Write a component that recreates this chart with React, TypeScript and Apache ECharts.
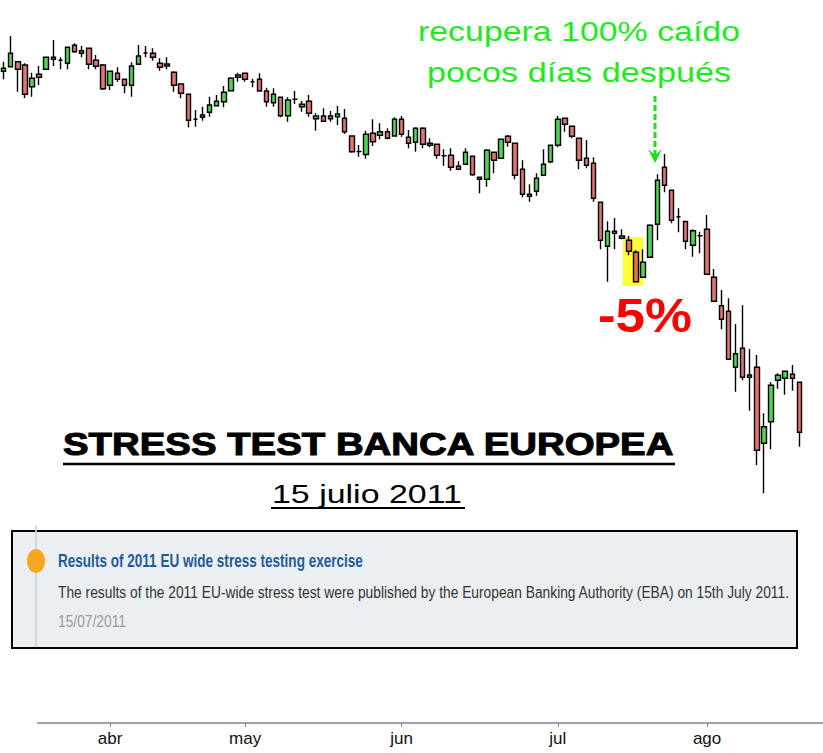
import React, { useEffect, useRef } from "react";
import * as echarts from "echarts";

const FONT = '"Liberation Sans", Arial, sans-serif';

const tradingDays: string[] = [
  "2011-03-11", "2011-03-14", "2011-03-15", "2011-03-16", "2011-03-17", "2011-03-18", "2011-03-21", "2011-03-22",
  "2011-03-23", "2011-03-24", "2011-03-25", "2011-03-28", "2011-03-29", "2011-03-30", "2011-03-31",
  "2011-04-01", "2011-04-04", "2011-04-05", "2011-04-06", "2011-04-07", "2011-04-08", "2011-04-11", "2011-04-12",
  "2011-04-13", "2011-04-14", "2011-04-15", "2011-04-18", "2011-04-19", "2011-04-20", "2011-04-21", "2011-04-26",
  "2011-04-27", "2011-04-28", "2011-04-29",
  "2011-05-02", "2011-05-03", "2011-05-04", "2011-05-05", "2011-05-06", "2011-05-09", "2011-05-10", "2011-05-11",
  "2011-05-12", "2011-05-13", "2011-05-16", "2011-05-17", "2011-05-18", "2011-05-19", "2011-05-20", "2011-05-23",
  "2011-05-24", "2011-05-25", "2011-05-26", "2011-05-27", "2011-05-30", "2011-05-31",
  "2011-06-01", "2011-06-02", "2011-06-03", "2011-06-06", "2011-06-07", "2011-06-08", "2011-06-09", "2011-06-10",
  "2011-06-13", "2011-06-14", "2011-06-15", "2011-06-16", "2011-06-17", "2011-06-20", "2011-06-21", "2011-06-22",
  "2011-06-23", "2011-06-24", "2011-06-27", "2011-06-28", "2011-06-29", "2011-06-30",
  "2011-07-01", "2011-07-04", "2011-07-05", "2011-07-06", "2011-07-07", "2011-07-08", "2011-07-11", "2011-07-12",
  "2011-07-13", "2011-07-14", "2011-07-15", "2011-07-18", "2011-07-19", "2011-07-20", "2011-07-21", "2011-07-22",
  "2011-07-25", "2011-07-26", "2011-07-27", "2011-07-28", "2011-07-29",
  "2011-08-01", "2011-08-02", "2011-08-03", "2011-08-04", "2011-08-05", "2011-08-08", "2011-08-09", "2011-08-10",
  "2011-08-11", "2011-08-12", "2011-08-15", "2011-08-16", "2011-08-17", "2011-08-18",
];

// [open, close, low, high]
const ohlc: number[][] = [
  [9.287, 9.317, 9.207, 9.383], [9.333, 9.467, 9.327, 9.64], [9.383, 9.307, 9.083, 9.383], [9.35, 9.057, 9.017, 9.367],
  [9.133, 9.217, 9.033, 9.273], [9.257, 9.227, 9.15, 9.34], [9.307, 9.427, 9.307, 9.433], [9.427, 9.407, 9.34, 9.6],
  [9.397, 9.397, 9.307, 9.427], [9.367, 9.527, 9.307, 9.527], [9.547, 9.483, 9.473, 9.567], [9.467, 9.493, 9.427, 9.54],
  [9.517, 9.357, 9.307, 9.517], [9.397, 9.337, 9.307, 9.45], [9.35, 9.113, 9.1, 9.36], [9.147, 9.287, 9.1, 9.287],
  [9.267, 9.207, 9.183, 9.327], [9.207, 9.147, 9.067, 9.207], [9.147, 9.34, 9.033, 9.377], [9.357, 9.44, 9.357, 9.55],
  [9.47, 9.47, 9.427, 9.54], [9.467, 9.427, 9.393, 9.517], [9.367, 9.327, 9.293, 9.417], [9.36, 9.34, 9.307, 9.427],
  [9.277, 9.147, 9.083, 9.287], [9.16, 9.067, 9.017, 9.167], [9.057, 8.797, 8.725, 9.057], [8.807, 8.807, 8.733, 8.9],
  [8.85, 8.827, 8.793, 8.933], [8.877, 8.95, 8.833, 9.033], [8.943, 8.987, 8.943, 9.05], [8.983, 9.077, 8.927, 9.14],
  [9.093, 9.217, 9.093, 9.227], [9.227, 9.25, 9.183, 9.273], [9.267, 9.207, 9.183, 9.267], [9.183, 9.183, 9.127, 9.21],
  [9.207, 9.09, 9.083, 9.267], [9.09, 8.983, 8.933, 9.123], [8.973, 9.057, 8.933, 9.117], [9.027, 8.843, 8.827, 9.027],
  [8.843, 9.0, 8.783, 9.027], [9.007, 9.007, 8.96, 9.09], [8.933, 8.957, 8.883, 8.99], [8.987, 8.867, 8.833, 9.05],
  [8.813, 8.84, 8.693, 8.867], [8.84, 8.787, 8.787, 8.917], [8.84, 8.813, 8.783, 8.89], [8.833, 8.86, 8.75, 8.94],
  [8.817, 8.683, 8.66, 8.91], [8.64, 8.483, 8.473, 8.64], [8.485, 8.485, 8.433, 8.55], [8.455, 8.658, 8.412, 8.692],
  [8.667, 8.583, 8.54, 8.808], [8.647, 8.683, 8.607, 8.767], [8.683, 8.617, 8.607, 8.717], [8.64, 8.807, 8.64, 8.827],
  [8.807, 8.657, 8.633, 8.84], [8.627, 8.567, 8.517, 8.7], [8.577, 8.717, 8.483, 8.727], [8.717, 8.557, 8.517, 8.727],
  [8.547, 8.567, 8.527, 8.617], [8.557, 8.447, 8.413, 8.557], [8.443, 8.443, 8.343, 8.507], [8.447, 8.327, 8.293, 8.517],
  [8.337, 8.307, 8.307, 8.387], [8.357, 8.477, 8.357, 8.517], [8.437, 8.253, 8.243, 8.437], [8.207, 8.227, 8.067, 8.227],
  [8.207, 8.497, 8.133, 8.507], [8.477, 8.397, 8.267, 8.477], [8.417, 8.607, 8.417, 8.607], [8.637, 8.577, 8.533, 8.65],
  [8.567, 8.247, 8.207, 8.567], [8.307, 8.057, 8.027, 8.397], [8.037, 8.057, 7.983, 8.157], [8.087, 8.217, 8.043, 8.267],
  [8.247, 8.357, 8.247, 8.507], [8.383, 8.547, 8.367, 8.547], [8.547, 8.807, 8.527, 8.84], [8.817, 8.757, 8.683, 8.817],
  [8.737, 8.637, 8.617, 8.737], [8.617, 8.397, 8.307, 8.617], [8.417, 8.347, 8.317, 8.6], [8.367, 8.017, 7.983, 8.427],
  [7.977, 7.597, 7.507, 7.977], [7.537, 7.687, 7.183, 7.787], [7.667, 7.687, 7.507, 7.82], [7.64, 7.617, 7.607, 7.707],
  [7.597, 7.487, 7.447, 7.64], [7.477, 7.183, 7.183, 7.497], [7.227, 7.377, 7.227, 7.507], [7.427, 7.747, 7.427, 7.757],
  [7.757, 8.197, 7.597, 8.257], [8.327, 8.147, 8.077, 8.46], [8.097, 7.797, 7.767, 8.097], [7.833, 7.833, 7.677, 7.917],
  [7.785, 7.587, 7.507, 7.785], [7.547, 7.693, 7.433, 7.707], [7.643, 7.643, 7.467, 7.683], [7.707, 7.257, 7.257, 7.85],
  [7.227, 6.987, 6.987, 7.31], [6.943, 6.807, 6.707, 7.1], [6.887, 6.407, 6.407, 7.017], [6.327, 6.463, 6.083, 6.76],
  [6.517, 6.227, 6.197, 6.947], [6.227, 6.25, 5.893, 6.51], [6.327, 5.497, 5.35, 6.45], [5.567, 5.733, 5.067, 5.867],
  [5.783, 6.147, 5.507, 6.177], [6.197, 6.247, 6.113, 6.267], [6.217, 6.287, 6.053, 6.287], [6.257, 6.217, 6.093, 6.35],
  [6.177, 5.677, 5.533, 6.177],
];

const highlightedDays: string[] = ["2011-07-15", "2011-07-18"];
const monthNames: string[] = ["ene", "feb", "mar", "abr", "may", "jun", "jul", "ago", "sep", "oct", "nov", "dic"];

const annotationLines: string[] = ["recupera 100% caído", "pocos días después"];
const dropLabel = "-5%";
const titleText = "STRESS TEST BANCA EUROPEA";
const dateText = "15 julio 2011";
const newsTitle = "Results of 2011 EU wide stress testing exercise";
const newsBody =
  "The results of the 2011 EU-wide stress test were published by the European Banking Authority (EBA) on 15th July 2011.";
const newsDate = "15/07/2011";

function fitScale(text: string, size: number, weight: string, target: number): number {
  const ctx = document.createElement("canvas").getContext("2d");
  if (!ctx) return 1;
  ctx.font = `${weight} ${size}px ${FONT}`;
  const w = ctx.measureText(text).width;
  return w > 0 ? target / w : 1;
}

function textEl(
  text: string,
  left: number,
  midY: number,
  size: number,
  weight: string,
  color: string,
  targetWidth: number,
  extra: any = {}
) {
  return {
    type: "text",
    x: left,
    y: midY,
    scaleX: fitScale(text, size, weight, targetWidth),
    z: 10,
    style: {
      text,
      x: 0,
      y: 0,
      fill: color,
      fontSize: size,
      fontWeight: weight,
      fontFamily: FONT,
      align: "left",
      verticalAlign: "middle",
      textAlign: "left",
      textVerticalAlign: "middle",
      ...extra,
    },
  };
}

const isMonthStart = (i: number) =>
  i > 0 && tradingDays[i].slice(5, 7) !== tradingDays[i - 1].slice(5, 7);

export default function App() {
  const ref = useRef<HTMLDivElement>(null);

  useEffect(() => {
    if (!ref.current) return;
    const chart = echarts.init(ref.current, undefined, { renderer: "svg" });

    const data = ohlc.map((v, i) =>
      highlightedDays.includes(tradingDays[i])
        ? { value: v, itemStyle: { color0: "#E9773D", color: "#E9773D" } }
        : v
    );

    const green = "#1EEB1E";

    chart.setOption({
      animation: false,
      backgroundColor: "#ffffff",
      grid: { left: 0, right: 20, top: 0, height: 723 },
      xAxis: {
        type: "category",
        data: tradingDays,
        boundaryGap: true,
        axisLine: { show: false },
        axisTick: {
          show: true,
          alignWithLabel: true,
          interval: (i: number) => isMonthStart(i),
          length: 4,
          lineStyle: { color: "#7a8590", width: 1 },
        },
        axisLabel: {
          interval: (i: number) => isMonthStart(i),
          formatter: (v: string) => monthNames[parseInt(v.slice(5, 7), 10) - 1],
          color: "#111111",
          fontSize: 17,
          fontFamily: FONT,
          margin: 7,
        },
        splitLine: { show: false },
      },
      yAxis: { type: "value", min: 2.77, max: 10, show: false, splitLine: { show: false } },
      series: [
        {
          type: "candlestick",
          name: "Cotización",
          data,
          barWidth: 5,
          z: 5,
          itemStyle: {
            color: "#52D452",
            color0: "#E57373",
            borderColor: "#000000",
            borderColor0: "#000000",
            borderColorDoji: "#000000",
            borderWidth: 1.4,
          },
        },
      ],
      graphic: [
        // highlight of the stress test result days
        { type: "rect", z: 0, shape: { x: 623, y: 237, width: 20, height: 49 }, style: { fill: "#FFFF33" } },
        // axis line
        { type: "line", z: 1, shape: { x1: 37, y1: 723, x2: 823, y2: 723 }, style: { stroke: "#7a8590", lineWidth: 1.5 } },
        // green annotation
        textEl(annotationLines[0], 418, 31.5, 27, "normal", green, 322),
        textEl(annotationLines[1], 427, 72.5, 27, "normal", green, 304),
        {
          type: "line",
          z: 10,
          shape: { x1: 655, y1: 96, x2: 655, y2: 155 },
          style: { stroke: "#22DD22", lineWidth: 3, lineDash: [6, 3] },
        },
        {
          type: "polygon",
          z: 10,
          shape: { points: [[648, 149], [655, 155], [662, 149], [655, 163]] },
          style: { fill: "#22DD22" },
        },
        // -5%
        textEl(dropLabel, 598, 315, 49, "bold", "#FF0000", 94),
        // title
        textEl(titleText, 63, 444, 31, "bold", "#000000", 612, { stroke: "#000000", lineWidth: 1 }),
        { type: "line", z: 10, shape: { x1: 63, y1: 464, x2: 675, y2: 464 }, style: { stroke: "#000", lineWidth: 2.5 } },
        textEl(dateText, 272, 494, 25, "normal", "#000000", 190),
        { type: "line", z: 10, shape: { x1: 271, y1: 508, x2: 465, y2: 508 }, style: { stroke: "#000", lineWidth: 2 } },
        // news box
        {
          type: "rect",
          z: 8,
          shape: { x: 12, y: 531, width: 785, height: 117 },
          style: { fill: "#ECEFF2", stroke: "#000000", lineWidth: 2 },
        },
        { type: "line", z: 9, shape: { x1: 36, y1: 525, x2: 36, y2: 647 }, style: { stroke: "#CFD7E0", lineWidth: 1.8 } },
        { type: "ellipse", z: 10, shape: { cx: 36, cy: 561, rx: 9, ry: 12 }, style: { fill: "#F5A623" } },
        textEl(newsTitle, 58, 561, 18, "bold", "#1F5C99", 305),
        textEl(newsBody, 58, 592, 17, "normal", "#333333", 732),
        textEl(newsDate, 58, 621, 17, "normal", "#9A9A9A", 68),
      ],
    });

    return () => chart.dispose();
  }, []);

  return (
    <div
      ref={ref}
      style={{ position: "absolute", left: 0, top: 0, width: 823, height: 753, background: "#fff" }}
    />
  );
}
